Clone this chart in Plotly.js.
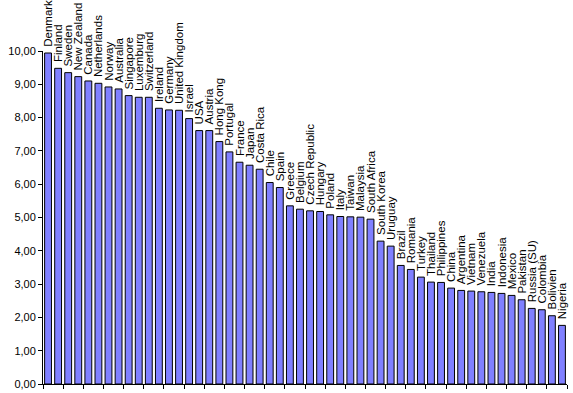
<!DOCTYPE html>
<html><head><meta charset="utf-8">
<script src="https://cdn.plot.ly/plotly-3.0.1.min.js"></script>
<style>html,body{margin:0;padding:0;background:#fff}#c{width:573px;height:393px}</style>
</head><body><div id="c"></div>
<script>
const countries = ["Denmark","Finland","Sweden","New Zealand","Canada","Netherlands","Norway","Australia","Singapore","Luxemburg","Switzerland","Ireland","Germany","United Kingdom","Israel","USA","Austria","Hong Kong","Portugal","France","Japan","Costa Rica","Chile","Spain","Greece","Belgium","Czech Republic","Hungary","Poland","Italy","Taiwan","Malaysia","South Africa","South Korea","Uruguay","Brazil","Romania","Turkey","Thailand","Philippines","China","Argentina","Vietnam","Venezuela","India","Indonesia","Mexico","Pakistan","Russia (SU)","Colombia","Bolivien","Nigeria"];
const scores = [9.94,9.48,9.35,9.23,9.10,9.03,8.92,8.86,8.66,8.61,8.61,8.28,8.23,8.22,7.97,7.61,7.61,7.28,6.97,6.66,6.57,6.45,6.05,5.90,5.35,5.25,5.20,5.18,5.08,5.03,5.02,5.01,4.95,4.29,4.14,3.56,3.44,3.21,3.06,3.05,2.88,2.81,2.79,2.77,2.75,2.72,2.66,2.53,2.27,2.23,2.05,1.76];
const yTicks = [0,1,2,3,4,5,6,7,8,9,10];

Plotly.newPlot('c', [{
  type: 'bar',
  x: countries,
  y: scores,
  text: countries.map(c => '\u00a0' + c),
  textposition: 'outside',
  textangle: -90,
  constraintext: 'none',
  cliponaxis: false,
  textfont: {family: 'Liberation Sans, Arial, sans-serif', size: 11.5, color: '#000'},
  marker: {color: '#8080ff', line: {color: '#000', width: 1}},
  hoverinfo: 'none'
}], {
  width: 573, height: 393,
  margin: {l: 43, r: 6, t: 51, b: 9, pad: 0},
  separators: ',.',
  paper_bgcolor: '#fff', plot_bgcolor: '#fff',
  showlegend: false,
  bargap: 0.32,
  font: {family: 'Liberation Sans, Arial, sans-serif', size: 11, color: '#000'},
  xaxis: {
    showticklabels: false, ticks: 'outside', ticklen: 4, tickcolor: '#000', tickson: 'boundaries',
    showline: true, linecolor: '#000', linewidth: 1, showgrid: false, zeroline: false, fixedrange: true
  },
  yaxis: {
    range: [0, 10], tickvals: yTicks, tickformat: '.2f', ticks: 'outside', ticklen: 4, tickcolor: '#000',
    showline: true, linecolor: '#000', linewidth: 1, showgrid: false, zeroline: false,
    tickfont: {family: 'Liberation Sans, Arial, sans-serif', size: 11, color: '#000'}, fixedrange: true
  }
}, {displayModeBar: false, staticPlot: true});
</script></body></html>
